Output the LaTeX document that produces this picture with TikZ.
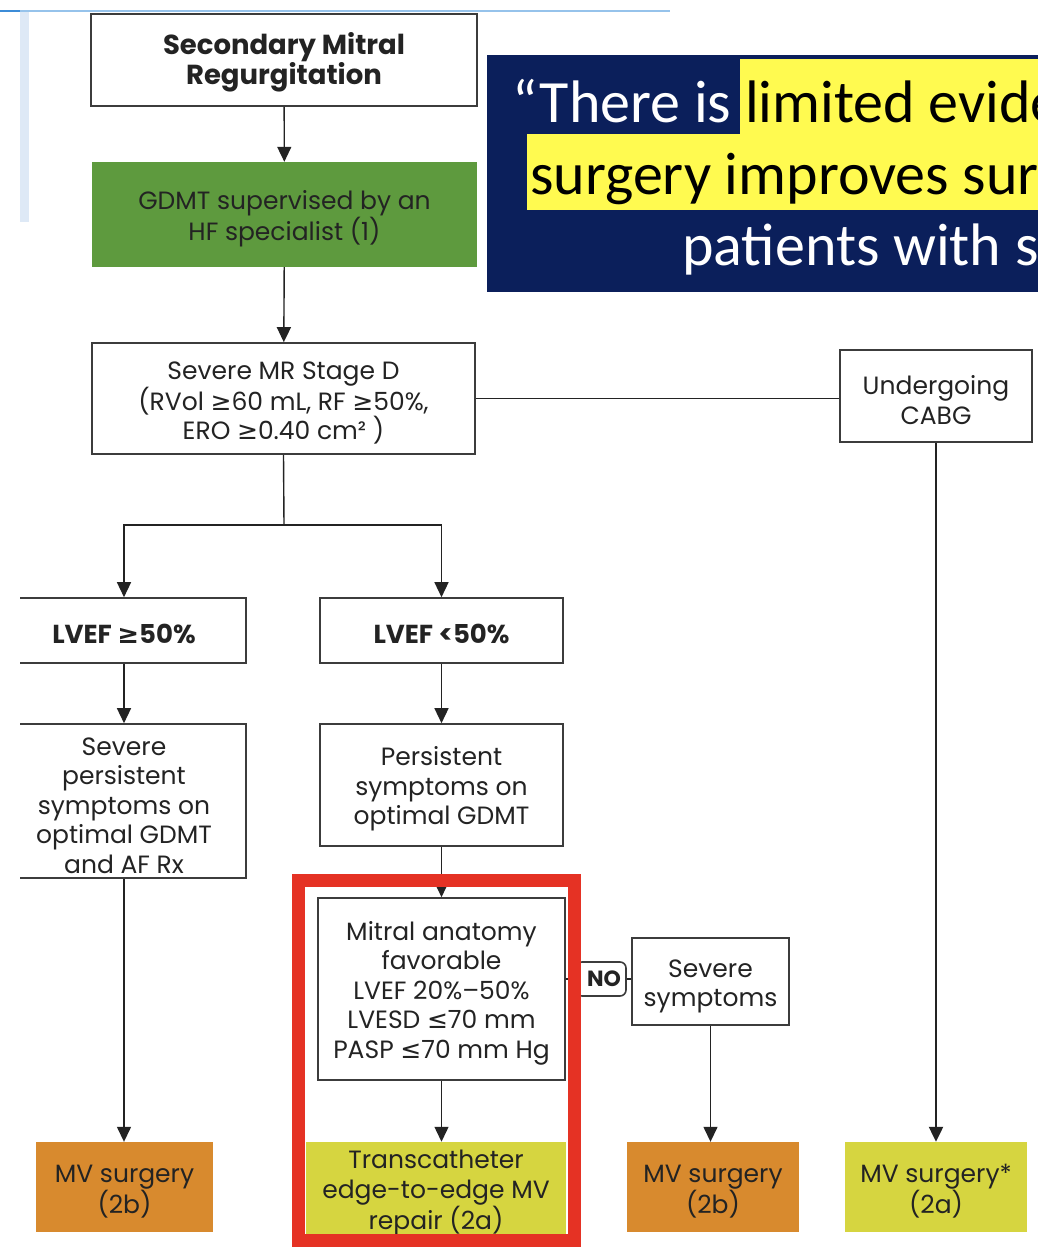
\documentclass[tikz,border=0pt]{standalone}
\usepackage{fontspec}
\setmainfont{Poppins}
\newfontfamily\bannerfont{Carlito}
\newfontfamily\symfont{DejaVu Sans}
\usetikzlibrary{arrows.meta}
\definecolor{navy}{RGB}{11,31,91}
\definecolor{hlyellow}{RGB}{255,250,80}
\definecolor{gdmtgreen}{RGB}{94,154,62}
\definecolor{mvorange}{RGB}{216,138,46}
\definecolor{mvyellow}{RGB}{214,213,64}
\definecolor{redframe}{RGB}{229,50,36}
\definecolor{boxline}{RGB}{60,60,60}
\definecolor{txt}{RGB}{35,35,35}
\definecolor{topblue}{RGB}{60,140,215}
\definecolor{lightblue}{RGB}{150,195,235}
\definecolor{stripblue}{RGB}{222,233,246}
\newcommand{\mygeq}{{\symfont ≥}}
\newcommand{\myleq}{{\symfont ≤}}
\newcommand{\mytop}{\rule{0pt}{27pt}}
\begin{document}
\begin{tikzpicture}[x=1pt,y=-1pt,
  box/.style={draw=boxline, line width=1.6pt, fill=white, text=txt, align=center, inner sep=0pt, font=\fontsize{25}{29.5}\selectfont},
  boldbox/.style={box, font=\fontsize{26}{30}\selectfont\bfseries},
  fillbox/.style={align=center, inner sep=0pt, text=txt, font=\fontsize{25}{29.5}\selectfont},
  arr/.style={-{Triangle[width=14pt,length=15pt]}, line width=1.4pt, draw=txt},
  ln/.style={line width=1.4pt, draw=txt},
  banner/.style={anchor=base west, inner sep=0pt, font=\bannerfont\fontsize{60}{72}\selectfont}
]
\useasboundingbox (0,0) rectangle (1038,1247);
\fill[white] (0,0) rectangle (1038,1247);

% screenshot edges
\draw[lightblue, line width=1.5pt] (20,11) -- (670,11);
\draw[topblue, line width=2pt] (0,11) -- (20,11);
\fill[stripblue] (20,12) rectangle (29,222);

% banner
\fill[navy] (487,55) rectangle (1038,292);
\fill[hlyellow] (740,59) rectangle (1038,134);
\fill[hlyellow] (527,134) rectangle (1038,210);
\begin{scope}
\clip (487,55) rectangle (1038,292);
\node[banner, text=white] (b1a) at (512,122) {“There is};
\node[banner, text=black] (b1b) at (745,122) {limited evide};
\node[banner, text=black] (b2) at (530,194) {surgery improves sur};
\node[banner, text=white] (b3) at (682,265) {patients with s};
\end{scope}

% nodes
\node[boldbox, font=\fontsize{27.5}{30}\selectfont\bfseries, minimum width=386, minimum height=92] (smr) at (284,60) {\mytop Secondary Mitral\\Regurgitation};
\node[fillbox, fill=gdmtgreen, minimum width=385, minimum height=105] (gdmt) at (284.5,214.5) {\mytop GDMT supervised by an\\HF specialist (1)};
\node[box, minimum width=383, minimum height=111] (stageD) at (283.5,398.5) {\mytop Severe MR Stage D\\(RVol \mygeq60 mL, RF \mygeq50\%,\\ERO \mygeq0.40 cm² )};
\node[box, minimum width=192, minimum height=92] (cabg) at (936,396) {\mytop Undergoing\\CABG};
\coordinate (split) at (284,525);
\node[boldbox, minimum width=244, minimum height=65] (lvefhi) at (124,630.5) {\mytop LVEF \mygeq50\%};
\node[boldbox, minimum width=243, minimum height=65] (lveflo) at (441.5,630.5) {\mytop LVEF <50\%};
\node[box, minimum width=244, minimum height=154] (sevpers) at (124,801) {\mytop Severe\\persistent\\symptoms on\\optimal GDMT\\and AF Rx};
\node[box, minimum width=243, minimum height=122] (persist) at (441.5,785) {\mytop Persistent\\symptoms on\\optimal GDMT};
\node[box, minimum width=247, minimum height=182] (mitral) at (441.5,989) {\mytop Mitral anatomy\\favorable\\LVEF 20\%–50\%\\LVESD \myleq70 mm\\PASP \myleq70 mm Hg};
\node[box, rounded corners=6pt, font=\fontsize{22}{24}\selectfont\bfseries, minimum width=50, minimum height=34] (nolab) at (601,979) {\hspace*{6pt}NO};
\node[box, minimum width=157, minimum height=87] (sevsym) at (710.5,981.5) {\mytop Severe\\symptoms};
\node[fillbox, fill=mvorange, minimum width=177, minimum height=90] (mvs1) at (124.5,1187) {\mytop MV surgery\\(2b)};
\node[fillbox, fill=mvyellow, minimum width=260, minimum height=94] (tteer) at (436,1189) {\mytop Transcatheter\\edge-to-edge MV\\repair (2a)};
\node[fillbox, fill=mvorange, minimum width=172, minimum height=90] (mvs2) at (713,1187) {\mytop MV surgery\\(2b)};
\node[fillbox, fill=mvyellow, minimum width=182, minimum height=90] (mvs3) at (936,1187) {\mytop MV surgery*\\(2a)};

% connectors
\draw[arr] (smr) -- (gdmt);
\draw[arr] (gdmt) -- (stageD);
\draw[ln] (stageD.east) -- (cabg.west |- stageD.east);
\draw[ln] (stageD.south) -- (split);
\draw[arr] (split) -| (lvefhi.north);
\draw[arr] (split) -| (lveflo.north);
\draw[arr] (lvefhi) -- (sevpers);
\draw[arr] (lveflo) -- (persist);
\draw[arr] (persist) -- (mitral);
\draw[arr] (mitral.south) -- (mitral.south |- tteer.north);
\draw[ln] (mitral.east |- nolab) -- (nolab.west);
\draw[ln] (nolab.east) -- (sevsym.west |- nolab);
\draw[arr] (sevsym.south) -- (sevsym.south |- mvs2.north);
\draw[arr] (sevpers.south) -- (sevpers.south |- mvs1.north);
\draw[arr, line width=2.2pt] (cabg.south) -- (cabg.south |- mvs3.north);

% screenshot crop on the left
\fill[white] (0,585) rectangle (20,895);

% red highlight frame
\draw[redframe, line width=13pt] (298,880) rectangle (574,1240);
\end{tikzpicture}
\end{document}
